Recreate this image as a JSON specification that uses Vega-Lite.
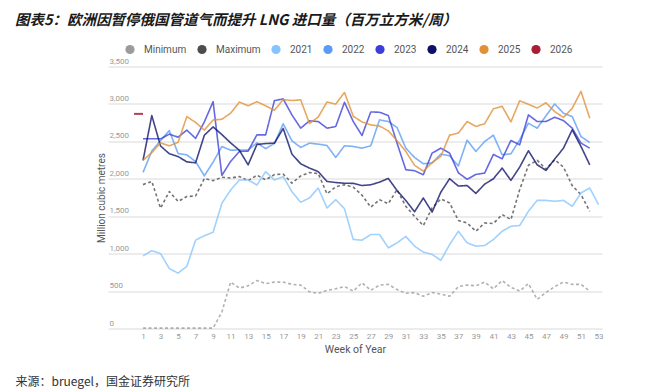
{
  "$schema": "https://vega.github.io/schema/vega-lite/v6.json",
  "autosize": {"type": "none"},
  "width": 494,
  "height": 262,
  "padding": {"left": 108, "top": 66.5, "right": 62, "bottom": 61.5},
  "background": "white",
  "config": {"view": {"stroke": null}, "font": "Roboto"},
  "title": {
    "text": "图表5：欧洲因暂停俄国管道气而提升 LNG 进口量（百万立方米/周）",
    "anchor": "start",
    "frame": "group",
    "dx": -93,
    "offset": 16,
    "font": "Noto Sans CJK SC",
    "fontSize": 14.5,
    "fontWeight": "bold",
    "fontStyle": "italic",
    "color": "#1a1a1a"
  },
  "datasets": {
    "weekly": [
      {"week": 1, "Minimum": 5, "Maximum": 1922, "2021": 970, "2022": 2085, "2023": 2534, "2024": 2245, "2025": 2245},
      {"week": 2, "Minimum": 5, "Maximum": 1965, "2021": 1040, "2022": 2370, "2023": 2534, "2024": 2845, "2025": 2350},
      {"week": 3, "Minimum": 5, "Maximum": 1608, "2021": 1000, "2022": 2510, "2023": 2534, "2024": 2438, "2025": 2480},
      {"week": 4, "Minimum": 5, "Maximum": 1830, "2021": 800, "2022": 2644, "2023": 2596, "2024": 2335, "2025": 2440},
      {"week": 5, "Minimum": 5, "Maximum": 1697, "2021": 740, "2022": 2337, "2023": 2556, "2024": 2297, "2025": 2487},
      {"week": 6, "Minimum": 5, "Maximum": 1763, "2021": 830, "2022": 2320, "2023": 2650, "2024": 2226, "2025": 2831},
      {"week": 7, "Minimum": 5, "Maximum": 1770, "2021": 1180, "2022": 2230, "2023": 2540, "2024": 2213, "2025": 2753},
      {"week": 8, "Minimum": 5, "Maximum": 2004, "2021": 1240, "2022": 2040, "2023": 2760, "2024": 2582, "2025": 2650},
      {"week": 9, "Minimum": 5, "Maximum": 1975, "2021": 1285, "2022": 2223, "2023": 3030, "2024": 2693, "2025": 2786},
      {"week": 10, "Minimum": 220, "Maximum": 2020, "2021": 1672, "2022": 2431, "2023": 2045, "2024": 2591, "2025": 2795},
      {"week": 11, "Minimum": 620, "Maximum": 2010, "2021": 1850, "2022": 2382, "2023": 2232, "2024": 2480, "2025": 2876},
      {"week": 12, "Minimum": 540, "Maximum": 2030, "2021": 1984, "2022": 2385, "2023": 2365, "2024": 2380, "2025": 3025},
      {"week": 13, "Minimum": 570, "Maximum": 1975, "2021": 1984, "2022": 2385, "2023": 2370, "2024": 2186, "2025": 2975},
      {"week": 14, "Minimum": 640, "Maximum": 2048, "2021": 1917, "2022": 2480, "2023": 2587, "2024": 2458, "2025": 3030},
      {"week": 15, "Minimum": 600, "Maximum": 1986, "2021": 2095, "2022": 2403, "2023": 2587, "2024": 2471, "2025": 2975},
      {"week": 16, "Minimum": 620, "Maximum": 2056, "2021": 1984, "2022": 2471, "2023": 3044, "2024": 2476, "2025": 2915},
      {"week": 17, "Minimum": 620, "Maximum": 2063, "2021": 2028, "2022": 2735, "2023": 3067, "2024": 2672, "2025": 3058},
      {"week": 18, "Minimum": 590, "Maximum": 1942, "2021": 1828, "2022": 2508, "2023": 2853, "2024": 2330, "2025": 3045},
      {"week": 19, "Minimum": 580, "Maximum": 2038, "2021": 1686, "2022": 2418, "2023": 2676, "2024": 2200, "2025": 3055},
      {"week": 20, "Minimum": 490, "Maximum": 2083, "2021": 1744, "2022": 2476, "2023": 2774, "2024": 2143, "2025": 2738},
      {"week": 21, "Minimum": 470, "Maximum": 2070, "2021": 1877, "2022": 2463, "2023": 2765, "2024": 2095, "2025": 2825},
      {"week": 22, "Minimum": 510, "Maximum": 1800, "2021": 1610, "2022": 2445, "2023": 2676, "2024": 1965, "2025": 3025},
      {"week": 23, "Minimum": 530, "Maximum": 1892, "2021": 1721, "2022": 2285, "2023": 2698, "2024": 1950, "2025": 2998},
      {"week": 24, "Minimum": 560, "Maximum": 1921, "2021": 1600, "2022": 2441, "2023": 3022, "2024": 1940, "2025": 3153},
      {"week": 25, "Minimum": 500, "Maximum": 1888, "2021": 1189, "2022": 2432, "2023": 2765, "2024": 1939, "2025": 2835},
      {"week": 26, "Minimum": 610, "Maximum": 1781, "2021": 1180, "2022": 2409, "2023": 2578, "2024": 1910, "2025": 2760},
      {"week": 27, "Minimum": 510, "Maximum": 1621, "2021": 1255, "2022": 2441, "2023": 2893, "2024": 1920, "2025": 2720},
      {"week": 28, "Minimum": 580, "Maximum": 1721, "2021": 1255, "2022": 2787, "2023": 2889, "2024": 1955, "2025": 2705},
      {"week": 29, "Minimum": 590, "Maximum": 1668, "2021": 1078, "2022": 2765, "2023": 2845, "2024": 2005, "2025": 2640},
      {"week": 30, "Minimum": 520, "Maximum": 1854, "2021": 1144, "2022": 2685, "2023": 2476, "2024": 1843, "2025": 2510},
      {"week": 31, "Minimum": 470, "Maximum": 1632, "2021": 1230, "2022": 2409, "2023": 2121, "2024": 1710, "2025": 2365},
      {"week": 32, "Minimum": 480, "Maximum": 1499, "2021": 1100, "2022": 2285, "2023": 2108, "2024": 1560, "2025": 2180},
      {"week": 33, "Minimum": 430, "Maximum": 1375, "2021": 1020, "2022": 2201, "2023": 2054, "2024": 1743, "2025": 2103},
      {"week": 34, "Minimum": 480, "Maximum": 1610, "2021": 990, "2022": 2210, "2023": 2343, "2024": 1555, "2025": 2215},
      {"week": 35, "Minimum": 460, "Maximum": 1730, "2021": 910, "2022": 2330, "2023": 2409, "2024": 1821, "2025": 2300},
      {"week": 36, "Minimum": 430, "Maximum": 1677, "2021": 1120, "2022": 2307, "2023": 2343, "2024": 2001, "2025": 2583},
      {"week": 37, "Minimum": 560, "Maximum": 1444, "2021": 1299, "2022": 2172, "2023": 2080, "2024": 1903, "2025": 2610},
      {"week": 38, "Minimum": 580, "Maximum": 1410, "2021": 1144, "2022": 2516, "2023": 1993, "2024": 1910, "2025": 2765},
      {"week": 39, "Minimum": 570, "Maximum": 1299, "2021": 1100, "2022": 2365, "2023": 2058, "2024": 1805, "2025": 2700},
      {"week": 40, "Minimum": 620, "Maximum": 1410, "2021": 1108, "2022": 2498, "2023": 2076, "2024": 1928, "2025": 2735},
      {"week": 41, "Minimum": 530, "Maximum": 1402, "2021": 1188, "2022": 2582, "2023": 2325, "2024": 2000, "2025": 2935},
      {"week": 42, "Minimum": 640, "Maximum": 1522, "2021": 1299, "2022": 2321, "2023": 2267, "2024": 2143, "2025": 2968},
      {"week": 43, "Minimum": 550, "Maximum": 1455, "2021": 1366, "2022": 2334, "2023": 2512, "2024": 1979, "2025": 2760},
      {"week": 44, "Minimum": 500, "Maximum": 1854, "2021": 1375, "2022": 2520, "2023": 2454, "2024": 2156, "2025": 3042},
      {"week": 45, "Minimum": 600, "Maximum": 2180, "2021": 1566, "2022": 2742, "2023": 2853, "2024": 2374, "2025": 2995},
      {"week": 46, "Minimum": 390, "Maximum": 2247, "2021": 1712, "2022": 2676, "2023": 2765, "2024": 2187, "2025": 2945},
      {"week": 47, "Minimum": 480, "Maximum": 2130, "2021": 1712, "2022": 2840, "2023": 2765, "2024": 2112, "2025": 3015},
      {"week": 48, "Minimum": 560, "Maximum": 2254, "2021": 1699, "2022": 3000, "2023": 2822, "2024": 2263, "2025": 2898},
      {"week": 49, "Minimum": 620, "Maximum": 2156, "2021": 1712, "2022": 2876, "2023": 2778, "2024": 2409, "2025": 2820},
      {"week": 50, "Minimum": 590, "Maximum": 1908, "2021": 1632, "2022": 2831, "2023": 2676, "2024": 2654, "2025": 2942},
      {"week": 51, "Minimum": 590, "Maximum": 1788, "2021": 1810, "2022": 2565, "2023": 2476, "2024": 2432, "2025": 3168},
      {"week": 52, "Minimum": 500, "Maximum": 1566, "2021": 1877, "2022": 2485, "2023": 2409, "2024": 2187, "2025": 2809},
      {"week": 53, "Minimum": null, "Maximum": null, "2021": 1655, "2022": null, "2023": null, "2024": null, "2025": null}
    ],
    "latest": [
      {"series": "2026", "week": 1, "value": 2867}
    ]
  },
  "encoding": {
    "y": {
      "field": "value", "type": "quantitative",
      "scale": {"domain": [0, 3500], "nice": false},
      "axis": {
        "title": "Million cubic metres", "values": [0,500,1000,1500,2000,2500,3000,3500], "format": ",.0f",
        "labelAlign": "left", "labelBaseline": "bottom", "labelPadding": -1, "labelOffset": -1.5,
        "labelFontSize": 8, "labelColor": "#999999", "ticks": false, "domain": false,
        "grid": true, "gridColor": "#e6e6e6", "gridWidth": 1.3,
        "titleFontSize": 10, "titleColor": "#555555", "titleFontWeight": "normal", "titlePadding": 2
      }
    },
    "color": {
      "field": "series", "type": "nominal",
      "scale": {
        "domain": ["Minimum", "Maximum", "2021", "2022", "2023", "2024", "2025", "2026"],
        "range": ["#9b9b9b", "#4d4d4d", "#85c4ff", "#5a9cf5", "#3b3fd8", "#0d1166", "#e09035", "#a81e35"]
      },
      "legend": {
        "orient": "none", "legendX": 17, "legendY": -22, "direction": "horizontal", "columns": 8,
        "title": null, "symbolType": "circle", "symbolSize": 85, "symbolOpacity": 1,
        "labelFontSize": 10, "labelColor": "#555555", "labelFont": "Roboto", "labelOffset": 9, "columnPadding": 10,
        "encode": {"symbols": {"update": {"fill": {"scale": "color", "field": "value"}, "strokeWidth": {"value": 0}, "opacity": {"value": 1}}}}
      }
    }
  },
  "layer": [
    {
      "data": {"name": "weekly"},
      "transform": [
        {"fold": ["Minimum", "Maximum", "2021", "2022", "2023", "2024", "2025"], "as": ["series", "value"]}
      ],
      "mark": {"type": "line", "opacity": 0.78, "strokeJoin": "round"},
      "encoding": {
        "x": {
          "field": "week", "type": "quantitative",
          "scale": {"domain": [-3, 53.4], "nice": false, "zero": false},
          "axis": {
            "title": "Week of Year", "values": [1,3,5,7,9,11,13,15,17,19,21,23,25,27,29,31,33,35,37,39,41,43,45,47,49,51,53],
            "labelFontSize": 8, "labelColor": "#999999", "ticks": false, "domain": false, "grid": false,
            "labelPadding": 4, "labelFlush": false,
            "titleFontSize": 10.5, "titleColor": "#555555", "titleFontWeight": "normal", "titlePadding": 4
          }
        },
        "strokeDash": {
          "field": "series", "type": "nominal",
          "scale": {
            "domain": ["Minimum", "Maximum", "2021", "2022", "2023", "2024", "2025"],
            "range": [[3, 2.5], [3, 2.5], [1, 0], [1, 0], [1, 0], [1, 0], [1, 0]]
          },
          "legend": null
        },
        "strokeWidth": {
          "field": "series", "type": "nominal",
          "scale": {
            "domain": ["Minimum", "Maximum", "2021", "2022", "2023", "2024", "2025"],
            "range": [1.6, 1.6, 1.8, 1.8, 1.8, 1.8, 2.6]
          },
          "legend": null
        }
      }
    },
    {
      "data": {"name": "latest"},
      "mark": {"type": "tick", "orient": "horizontal", "size": 9, "thickness": 2, "xOffset": -4.5, "opacity": 0.85},
      "encoding": {
        "x": {
          "field": "week", "type": "quantitative",
          "scale": {"domain": [-3, 53.4], "nice": false, "zero": false},
          "axis": {
            "orient": "bottom", "labels": false, "ticks": false, "domain": false, "grid": false,
            "title": "来源：bruegel，国金证券研究所", "titleAnchor": "start", "titleAlign": "left",
            "titleX": -93, "titleY": 57, "titleBaseline": "alphabetic", "titleAngle": 0,
            "titleFont": "Noto Sans CJK SC", "titleFontSize": 12, "titleFontWeight": "normal", "titleColor": "#333333"
          }
        }
      }
    }
  ],
  "resolve": {"axis": {"x": "independent"}}
}
